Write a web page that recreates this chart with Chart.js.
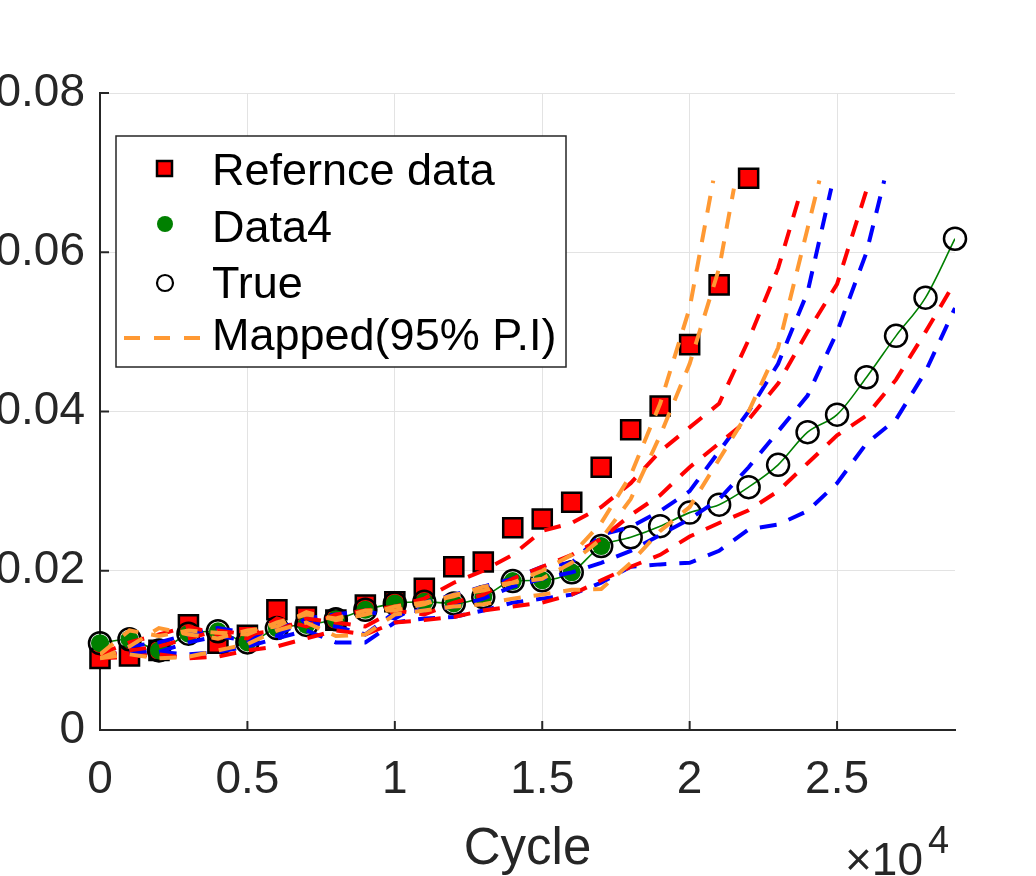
<!DOCTYPE html>
<html>
<head>
<meta charset="utf-8">
<script src="https://cdn.jsdelivr.net/npm/chart.js@4.4.0/dist/chart.umd.min.js"></script>
<style>
  body { margin: 0; background: #fff; }
  #box { width: 1036px; height: 876px; position: relative; }
</style>
</head>
<body>
<div id="box"><canvas id="cycle-chart"></canvas></div>
<script>
// cycle positions (1000 step)
const stepX = [0, 1000, 2000, 3000, 4000, 5000, 6000, 7000, 8000, 9000, 10000, 11000, 12000, 13000, 14000,
  15000, 16000, 17000, 18000, 19000, 20000, 21000, 22000, 23000, 24000, 25000, 26000, 27000, 28000, 29000];

const refValues = [0.0090, 0.0093, 0.0100, 0.0132, 0.0109, 0.0119, 0.0151, 0.0142, 0.0138, 0.0157, 0.0161, 0.0178,
  0.0205, 0.0211, 0.0254, 0.0265, 0.0286, 0.0330, 0.0377, 0.0407, 0.0484, 0.0559, 0.0693];
const data4Values = [0.0109, 0.0114, 0.0100, 0.0121, 0.0124, 0.0110, 0.0128, 0.0132, 0.0139, 0.0151, 0.0159, 0.0161,
  0.0159, 0.0167, 0.0187, 0.0188, 0.0198, 0.0231];
const trueValues = [0.0109, 0.0114, 0.0100, 0.0121, 0.0124, 0.0110, 0.0128, 0.0132, 0.0139, 0.0151, 0.0159, 0.0161,
  0.0159, 0.0167, 0.0187, 0.0188, 0.0198, 0.0231, 0.0242, 0.0256, 0.0273, 0.0283, 0.0305, 0.0333, 0.0374, 0.0396,
  0.0443, 0.0495, 0.0543, 0.0617];

// mapped prediction bands, values on stepX + last tip point [x, y]
const orange1 = [0.0095, 0.0125, 0.0118, 0.0125, 0.0122, 0.0120, 0.0135, 0.0145, 0.0140, 0.0150, 0.0150, 0.0158, 0.0170, 0.0175,
  0.0185, 0.0200, 0.0220, 0.0260, 0.0320, 0.0410, 0.0530];
const orange1Tip = [20800, 0.069];
const orange2 = [0.0090, 0.0105, 0.0128, 0.0120, 0.0115, 0.0125, 0.0130, 0.0148, 0.0138, 0.0145, 0.0155, 0.0160, 0.0168, 0.0180,
  0.0185, 0.0190, 0.0210, 0.0240, 0.0290, 0.0370, 0.0460, 0.0580];
const orange2Tip = [21500, 0.068];
const orange3 = [0.0090, 0.0095, 0.0090, 0.0092, 0.0100, 0.0108, 0.0125, 0.0135, 0.0118, 0.0120, 0.0145, 0.0150, 0.0155, 0.0158,
  0.0165, 0.0170, 0.0176, 0.0177, 0.0210, 0.0250, 0.0280, 0.0340, 0.0400, 0.0480, 0.0630];
const orange3Tip = [24400, 0.069];
const red1 = [0.0095, 0.0110, 0.0120, 0.0130, 0.0120, 0.0115, 0.0140, 0.0130, 0.0145, 0.0150, 0.0155, 0.0165, 0.0185, 0.0200,
  0.0220, 0.0250, 0.0260, 0.0280, 0.0310, 0.0350, 0.0380, 0.0410, 0.0490, 0.0580];
const red1Tip = [23800, 0.068];
const red2 = [0.0092, 0.0100, 0.0105, 0.0115, 0.0125, 0.0120, 0.0125, 0.0140, 0.0135, 0.0130, 0.0150, 0.0145, 0.0160, 0.0170,
  0.0190, 0.0205, 0.0220, 0.0240, 0.0270, 0.0295, 0.0330, 0.0360, 0.0390, 0.0435, 0.0500, 0.0560];
const red2Tip = [26100, 0.069];
const red3 = [0.0090, 0.0092, 0.0095, 0.0090, 0.0092, 0.0100, 0.0105, 0.0115, 0.0125, 0.0120, 0.0135, 0.0138, 0.0142, 0.0150,
  0.0155, 0.0160, 0.0170, 0.0188, 0.0205, 0.0220, 0.0243, 0.0260, 0.0276, 0.0300, 0.0335, 0.0370, 0.0395, 0.0440, 0.0500];
const red3Tip = [28800, 0.055];
const blue1 = [0.0090, 0.0105, 0.0110, 0.0120, 0.0128, 0.0122, 0.0118, 0.0140, 0.0145, 0.0150, 0.0140, 0.0160, 0.0170, 0.0180,
  0.0190, 0.0205, 0.0210, 0.0245, 0.0255, 0.0275, 0.0300, 0.0350, 0.0400, 0.0460, 0.0550];
const blue1Tip = [24800, 0.068];
const blue2 = [0.0092, 0.0100, 0.0098, 0.0110, 0.0118, 0.0112, 0.0130, 0.0135, 0.0130, 0.0120, 0.0148, 0.0150, 0.0155, 0.0165,
  0.0180, 0.0190, 0.0198, 0.0210, 0.0225, 0.0245, 0.0265, 0.0290, 0.0330, 0.0375, 0.0420, 0.0500, 0.0600];
const blue2Tip = [26600, 0.069];
const blue3 = [0.0090, 0.0095, 0.0098, 0.0095, 0.0098, 0.0105, 0.0115, 0.0125, 0.0110, 0.0110, 0.0135, 0.0140, 0.0142, 0.0150,
  0.0160, 0.0165, 0.0170, 0.0185, 0.0205, 0.0208, 0.0210, 0.0225, 0.0252, 0.0258, 0.0275, 0.0310, 0.0360, 0.0390, 0.0450, 0.0530];

const xTicks = [0, 5000, 10000, 15000, 20000, 25000];
const yTicks = [0, 0.02, 0.04, 0.06, 0.08];

const FONT = 'Liberation Sans, Arial, Helvetica, sans-serif';
const AXIS = '#262626';

function pts(values, tip) {
  const out = values.map((v, i) => ({ x: stepX[i], y: v }));
  if (tip) out.push({ x: tip[0], y: tip[1] });
  return out;
}

function band(values, tip, color) {
  return {
    label: 'Mapped(95% P.I)',
    data: pts(values, tip),
    showLine: true,
    borderColor: color,
    borderWidth: 4,
    borderDash: [17, 13],
    pointRadius: 0,
    fill: false,
    order: 1
  };
}

// inward tick marks, axis title, x10^4 and legend
const decor = {
  id: 'decor',
  afterDraw(chart) {
    const ctx = chart.ctx;
    const xs = chart.scales.x, ys = chart.scales.y;
    const a = chart.chartArea;
    ctx.save();
    ctx.strokeStyle = AXIS;
    ctx.lineWidth = 2;
    xTicks.forEach(function (t) {
      const px = xs.getPixelForValue(t);
      ctx.beginPath(); ctx.moveTo(px, a.bottom); ctx.lineTo(px, a.bottom - 9); ctx.stroke();
    });
    yTicks.forEach(function (t) {
      const py = ys.getPixelForValue(t);
      ctx.beginPath(); ctx.moveTo(a.left, py); ctx.lineTo(a.left + 9, py); ctx.stroke();
    });

    ctx.fillStyle = AXIS;
    ctx.textBaseline = 'alphabetic';
    ctx.font = '51px ' + FONT;
    ctx.textAlign = 'center';
    ctx.fillText('Cycle', (a.left + a.right) / 2, 864);
    ctx.textAlign = 'left';
    ctx.font = '46px ' + FONT;
    ctx.fillText('\u00d710', 845, 875);
    ctx.font = '38px ' + FONT;
    ctx.fillText('4', 928, 853);

    // legend
    const lx = 116, ly = 136, lw = 450, lh = 231;
    ctx.fillStyle = '#fff';
    ctx.fillRect(lx, ly, lw, lh);
    ctx.strokeStyle = '#262626';
    ctx.lineWidth = 1.5;
    ctx.strokeRect(lx, ly, lw, lh);

    ctx.font = '45px ' + FONT;
    ctx.fillStyle = '#000';
    ctx.fillText('Refernce data', 212, 185);
    ctx.fillText('Data4', 212, 242);
    ctx.fillText('True', 212, 298);
    ctx.fillText('Mapped(95% P.I)', 212, 350);

    ctx.fillStyle = '#ff0000';
    ctx.strokeStyle = '#000';
    ctx.lineWidth = 2.5;
    ctx.fillRect(157, 161, 15, 15);
    ctx.strokeRect(157, 161, 15, 15);

    ctx.fillStyle = '#008000';
    ctx.beginPath(); ctx.arc(165, 224, 8, 0, Math.PI * 2); ctx.fill();

    ctx.lineWidth = 2.2;
    ctx.beginPath(); ctx.arc(165, 283, 8, 0, Math.PI * 2); ctx.stroke();

    ctx.strokeStyle = '#ff9933';
    ctx.lineWidth = 4;
    ctx.setLineDash([16, 14]);
    ctx.beginPath(); ctx.moveTo(124, 338); ctx.lineTo(208, 338); ctx.stroke();
    ctx.restore();
  }
};

new Chart(document.getElementById('cycle-chart'), {
  type: 'scatter',
  data: {
    datasets: [
      band(orange1, orange1Tip, '#ff9933'),
      band(orange2, orange2Tip, '#ff9933'),
      band(orange3, orange3Tip, '#ff9933'),
      band(red1, red1Tip, '#ff0000'),
      band(red2, red2Tip, '#ff0000'),
      band(red3, red3Tip, '#ff0000'),
      band(blue1, blue1Tip, '#0000ff'),
      band(blue2, blue2Tip, '#0000ff'),
      band(blue3, null, '#0000ff'),
      {
        label: 'True',
        data: pts(trueValues),
        pointStyle: 'circle',
        pointRadius: 11,
        backgroundColor: 'rgba(0,0,0,0)',
        borderColor: '#000',
        borderWidth: 2.5,
        clip: false,
        order: 2
      },
      {
        label: 'Data4',
        data: pts(data4Values),
        pointStyle: 'circle',
        pointRadius: 9,
        backgroundColor: '#008000',
        borderWidth: 0,
        clip: false,
        order: 3
      },
      {
        label: 'Refernce data',
        data: pts(refValues),
        pointStyle: 'rect',
        pointRadius: 13.5,
        backgroundColor: '#ff0000',
        borderColor: '#000',
        borderWidth: 2.5,
        clip: false,
        order: 4
      },
      {
        label: 'fit',
        data: pts(trueValues),
        showLine: true,
        borderColor: '#008000',
        borderWidth: 1.6,
        tension: 0.4,
        cubicInterpolationMode: 'monotone',
        pointRadius: 0,
        order: 5
      }
    ]
  },
  options: {
    responsive: true,
    maintainAspectRatio: false,
    animation: false,
    layout: { padding: { top: 93, right: 81, left: 0, bottom: 0 } },
    plugins: {
      legend: { display: false },
      tooltip: { enabled: false }
    },
    scales: {
      x: {
        type: 'linear',
        min: 0,
        max: 29000,
        afterBuildTicks: function (s) {
          s.ticks = xTicks.map(v => ({ value: v }));
        },
        afterFit: function (s) { s.height = 146; },
        ticks: {
          padding: 23,
          color: AXIS,
          font: { family: FONT, size: 46 },
          maxRotation: 0,
          callback: function (v) { return String(v / 10000); }
        },
        grid: { color: '#e3e3e3', lineWidth: 1, drawTicks: false },
        border: { color: AXIS, width: 2 }
      },
      y: {
        type: 'linear',
        min: 0,
        max: 0.08,
        afterBuildTicks: function (s) {
          s.ticks = yTicks.map(v => ({ value: v }));
        },
        afterFit: function (s) { s.width = 100; },
        ticks: {
          padding: 15,
          color: AXIS,
          font: { family: FONT, size: 46 },
          callback: function (v) { return v === 0 ? '0' : v.toFixed(2); }
        },
        grid: { color: '#e3e3e3', lineWidth: 1, drawTicks: false },
        border: { color: AXIS, width: 2 }
      }
    }
  },
  plugins: [decor]
});
</script>
</body>
</html>
